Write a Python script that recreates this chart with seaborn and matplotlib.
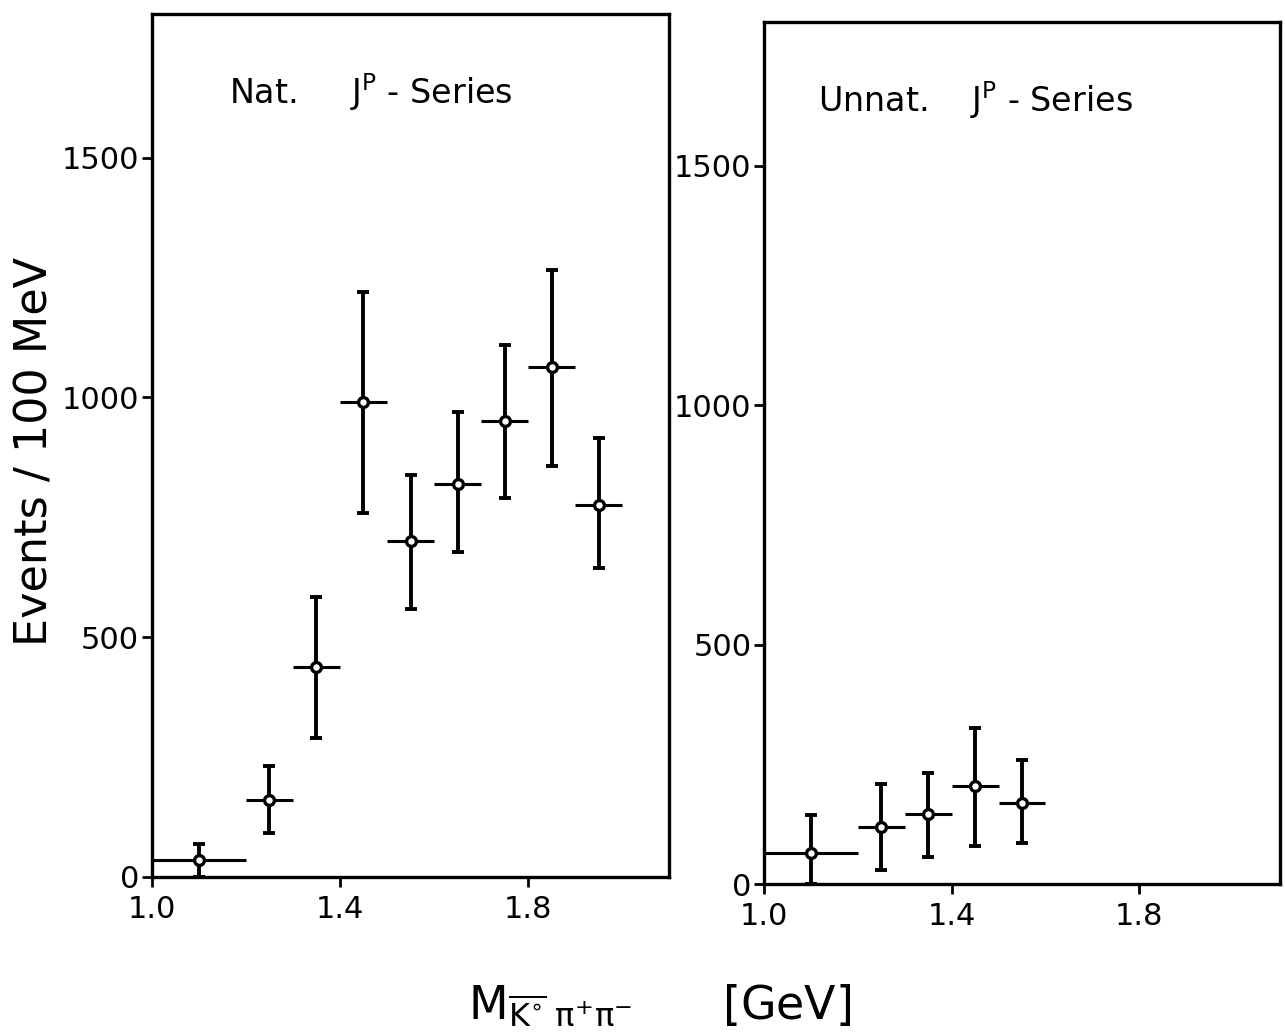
import matplotlib
matplotlib.use("Agg")
import matplotlib.pyplot as plt
import pandas as pd
import seaborn as sns

# natural J^P series
nat_mass = [1.1, 1.25, 1.35, 1.45, 1.55, 1.65, 1.75, 1.85, 1.95]
nat_events = [36, 161, 437, 990, 701, 820, 950, 1063, 776]
nat_low = [0, 92, 289, 759, 559, 678, 791, 858, 644]
nat_high = [69, 232, 584, 1220, 839, 969, 1109, 1266, 916]
nat_halfwidth = [0.1, 0.05, 0.05, 0.05, 0.05, 0.05, 0.05, 0.05, 0.05]

# unnatural J^P series
unnat_mass = [1.1, 1.25, 1.35, 1.45, 1.55]
unnat_events = [65, 119, 146, 205, 169]
unnat_low = [0, 29, 56, 79, 86]
unnat_high = [144, 209, 232, 326, 259]
unnat_halfwidth = [0.1, 0.05, 0.05, 0.05, 0.05]

x_ticks = [1.0, 1.4, 1.8]
x_ticklabels = ["1.0", "1.4", "1.8"]
y_ticks = [0, 500, 1000, 1500]

sns.set_theme(style="ticks")
plt.rcParams['font.family'] = ['DejaVu Sans']
plt.rcParams['mathtext.default'] = 'regular'
plt.rcParams['text.color'] = 'black'
plt.rcParams['axes.labelcolor'] = 'black'

fig = plt.figure(figsize=(12.85, 10.34), dpi=100)
ax1 = fig.add_axes([0.118, 0.152, 0.403, 0.8345])
ax2 = fig.add_axes([0.5946, 0.145, 0.4014, 0.8337])

panels = [
    (ax1, nat_mass, nat_events, nat_low, nat_high, nat_halfwidth, "Nat.     J$^{P}$ - Series", 0.15),
    (ax2, unnat_mass, unnat_events, unnat_low, unnat_high, unnat_halfwidth, "Unnat.    J$^{P}$ - Series", 0.105),
]

for ax, xs, ys, lo, hi, hw, title, tx in panels:
    df = pd.DataFrame({"mass": xs, "events": ys})
    yerr = [[y - l for y, l in zip(ys, lo)], [h - y for y, h in zip(ys, hi)]]
    ax.errorbar(xs, ys, yerr=yerr, fmt='none', ecolor='black',
                elinewidth=2.8, capsize=4, capthick=2.8, zorder=2)
    ax.errorbar(xs, ys, xerr=hw, fmt='none', ecolor='black',
                elinewidth=2.2, capsize=0, zorder=2)
    sns.scatterplot(data=df, x="mass", y="events", ax=ax, marker='o', s=50,
                    facecolor='white', edgecolor='black', linewidth=2.4, zorder=3)
    ax.set_xlim(1.0, 2.1)
    ax.set_ylim(0, 1800)
    ax.set_xticks(x_ticks)
    ax.set_xticklabels(x_ticklabels)
    ax.set_yticks(y_ticks)
    ax.set_xlabel("")
    ax.set_ylabel("")
    for s in ax.spines.values():
        s.set_visible(True)
        s.set_linewidth(2.4)
        s.set_color('black')
    ax.tick_params(axis='both', direction='out', length=7, width=2,
                   labelsize=22, colors='black')
    ax.tick_params(axis='y', pad=2)
    ax.tick_params(axis='x', pad=6)
    ax.text(tx, 0.91, title, transform=ax.transAxes, fontsize=24,
            ha='left', va='center', color='black')

fig.text(0.027, 0.563, "Events / 100 MeV", fontsize=32, rotation=90,
         ha='center', va='center', color='black')

fig.text(0.364, 0.028, r"M$_{\overline{K^{\circ}}\ \pi^{+}\pi^{-}}$      [GeV]",
         fontsize=33, ha='left', va='center', color='black')

fig.savefig("out.png", dpi=100)
